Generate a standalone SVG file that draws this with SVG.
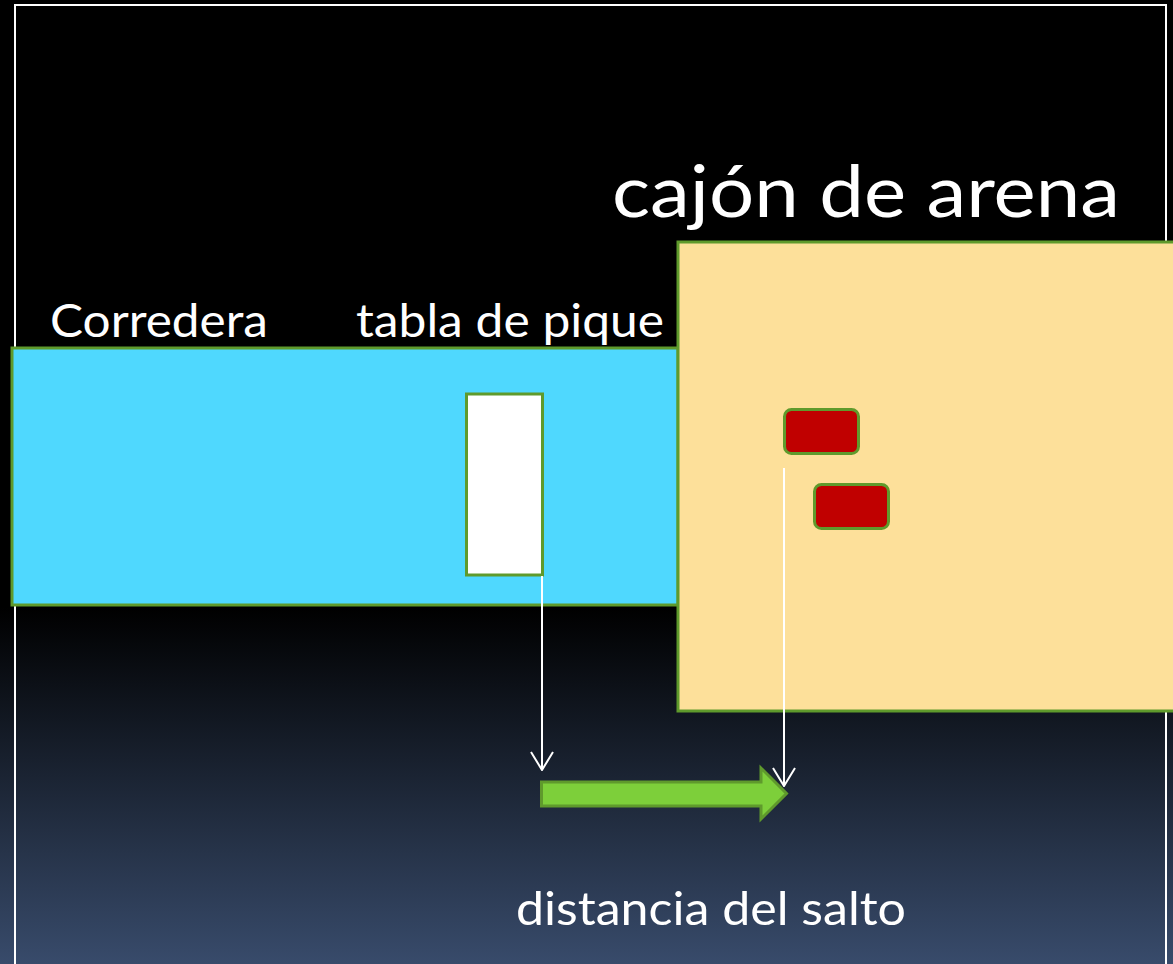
<svg xmlns="http://www.w3.org/2000/svg" width="1173" height="964" viewBox="0 0 1173 964">
<defs>
<linearGradient id="bg" x1="0" y1="0" x2="0" y2="964" gradientUnits="userSpaceOnUse">
<stop offset="0" stop-color="#000000"/>
<stop offset="0.63" stop-color="#000000"/>
<stop offset="1" stop-color="#384b6b"/>
</linearGradient>
<marker id="open" viewBox="0 0 20 24" refX="19" refY="12" markerWidth="20" markerHeight="24" markerUnits="userSpaceOnUse" orient="auto">
<path d="M1 1 L19 12 L1 23" fill="none" stroke="#ffffff" stroke-width="2"/>
</marker>
</defs>
<style>
.lbl{font-family:"Lato","Open Sans",sans-serif;fill:#ffffff}
.box{stroke:#5f9a2c;stroke-width:3}
.conn{stroke:#ffffff;stroke-width:2;fill:none}
</style>
<rect x="0" y="0" width="1173" height="964" fill="url(#bg)"/>
<rect x="15" y="5" width="1151" height="1000" fill="none" stroke="#ffffff" stroke-width="2"/>

<g id="corredera">
<rect class="box" x="12" y="348" width="666" height="257" fill="#4fd8fe"/>
<text class="lbl" x="50" y="337" font-size="46" textLength="218" lengthAdjust="spacingAndGlyphs">Corredera</text>
</g>
<g id="cajon">
<rect class="box" x="678" y="242" width="510" height="469" fill="#fde09a"/>
<text class="lbl" x="612" y="217" font-size="72" textLength="508" lengthAdjust="spacingAndGlyphs">cajón de arena</text>
</g>
<g id="tabla">
<rect class="box" x="466.5" y="394" width="76" height="181" fill="#ffffff"/>
<text class="lbl" x="356" y="337" font-size="46" textLength="308" lengthAdjust="spacingAndGlyphs">tabla de pique</text>
</g>
<g id="marca1">
<rect class="box" x="784.5" y="409.5" width="74" height="44" rx="7" fill="#c00000"/>
</g>
<g id="marca2">
<rect class="box" x="814.5" y="484.5" width="74" height="44" rx="7" fill="#c00000"/>
</g>
<g id="distancia">
<path d="M541.5 782 L761 782 L761 768 L786.5 793.5 L761 819 L761 806 L541.5 806 Z" fill="#7dcf3a" stroke="#5f9a2c" stroke-width="3" stroke-linejoin="miter"/>
<text class="lbl" x="516" y="925" font-size="46" textLength="390" lengthAdjust="spacingAndGlyphs">distancia del salto</text>
</g>
<g id="connectors">
<line class="conn" x1="542" y1="576" x2="542" y2="770" marker-end="url(#open)"/>
<line class="conn" x1="784" y1="468" x2="784" y2="786" marker-end="url(#open)"/>
</g>
</svg>
